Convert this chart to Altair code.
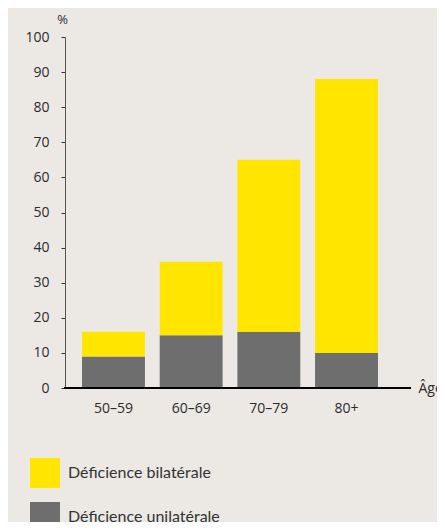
import altair as alt
import pandas as pd

ages = ["50–59", "60–69", "70–79", "80+"]
unilaterale = [9, 15, 16, 10]
bilaterale = [7, 21, 49, 78]
series = ["Déficience bilatérale", "Déficience unilatérale"]
colors = ["#FFE500", "#6E6E6E"]

rows = []
for a, u, b in zip(ages, unilaterale, bilaterale):
    rows.append({"age": a, "serie": series[1], "val": u, "ord": 0})
    rows.append({"age": a, "serie": series[0], "val": b, "ord": 1})
df = pd.DataFrame(rows)

W, H = 330, 351

bars = alt.Chart(df).mark_bar().encode(
    x=alt.X("age:N", sort=ages,
            scale=alt.Scale(paddingInner=0.19, paddingOuter=0.219),
            axis=alt.Axis(title="Âge", labelAngle=0, ticks=False, domain=False,
                          labelFontSize=14, labelColor="#2b2b2b", labelFont="Open Sans",
                          labelPadding=13, titleX=353, titleY=0, titleAlign="left",
                          titleBaseline="middle", titleFontSize=14, titleFontWeight="normal",
                          titleColor="#2b2b2b", titleFont="Open Sans")),
    y=alt.Y("val:Q", stack="zero",
            scale=alt.Scale(domain=[0, 100]),
            axis=alt.Axis(title="%", values=list(range(0, 101, 10)), grid=False,
                          tickSize=4, tickColor="#333", domainColor="#555",
                          labelFontSize=14, labelColor="#2b2b2b", labelFont="Open Sans",
                          labelPadding=12, titleAngle=0, titleX=-3, titleY=-18,
                          titleAlign="center", titleBaseline="middle",
                          titleFontSize=13, titleFontWeight="normal", titleColor="#2b2b2b",
                          titleFont="Open Sans")),
    color=alt.Color("serie:N", sort=series,
                    scale=alt.Scale(domain=series, range=colors),
                    legend=alt.Legend(title=None, orient="none", legendX=-35, legendY=421,
                                      symbolType="square", symbolSize=900,
                                      symbolStrokeWidth=0, labelFontSize=16,
                                      labelFont="Lato", labelColor="#333",
                                      rowPadding=14, labelOffset=8)),
    order=alt.Order("ord:Q"),
)

axisline = alt.Chart(pd.DataFrame({"a": [0]})).mark_rule(color="black", strokeWidth=2).encode(
    x=alt.value(-1), x2=alt.value(346), y=alt.value(H)
)

chart = alt.layer(bars, axisline).properties(
    width=W, height=H,
    background="#ECE9E5",
    padding={"left": 57, "top": 29, "right": 42, "bottom": 134},
    autosize=alt.AutoSizeParams(type="none"),
).configure_view(stroke=None)

chart.save("out.html", embed_options={"renderer": "svg", "actions": False})
